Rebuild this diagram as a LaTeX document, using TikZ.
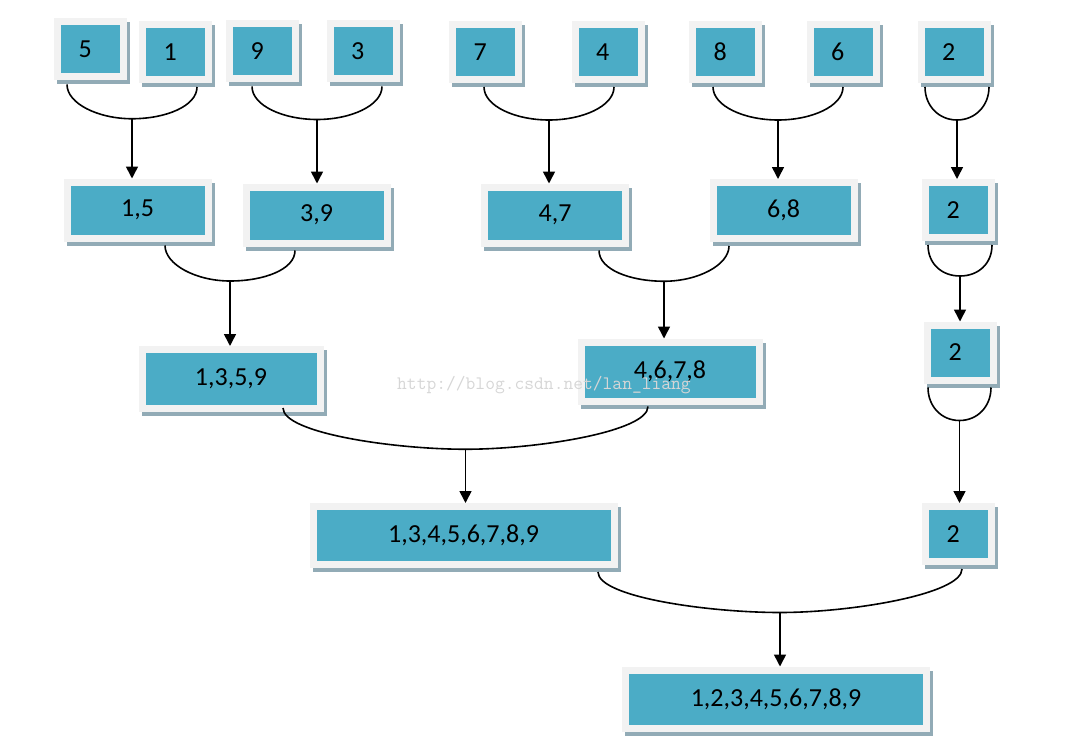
\documentclass[tikz,border=0pt]{standalone}
\usepackage{fontspec}
\setmainfont{Carlito}
\usetikzlibrary{arrows.meta, calc, shadows}

\definecolor{boxblue}{RGB}{75,172,198}
\definecolor{boxframe}{RGB}{242,242,242}
\definecolor{boxshade}{RGB}{146,171,182}
\definecolor{markgray}{RGB}{214,214,214}

\begin{document}
\begin{tikzpicture}[x=1pt, y=-1pt, >={Triangle[width=12pt,length=12pt]},
  box/.style={fill=boxblue, draw=boxframe, line width=7pt, inner sep=0pt,
    font=\fontsize{26}{30}\selectfont,
    drop shadow={shadow xshift=3pt, shadow yshift=-4pt, fill=boxshade, draw=boxshade, line width=7pt, opacity=1}},
  one/.style={box, minimum width=66pt, minimum height=55pt, text width=24pt, align=left},
  two/.style={box, minimum width=141pt, minimum height=56pt},
  four/.style={box, minimum width=178pt, minimum height=59pt},
  nine/.style={box, minimum width=301pt, minimum height=58pt},
  link/.style={line width=1.6pt},
  hook/.style={out=-90, in=180, out distance=19pt, in distance=#1},
  unhook/.style={out=0, in=-90, out distance=#1, in distance=19pt},
  flow/.style={line width=1.6pt, ->}]

\useasboundingbox (0,0) rectangle (1076,749);

% the numbers
\node[one] (n5) at (90.5,49.5) {5};
\node[one] (n1) at (175.5,52) {1};
\node[one] (n9) at (262.5,51.5) {9};
\node[one] (n3) at (363,51.5) {3};
\node[one] (n7) at (485.5,52) {7};
\node[one] (n4) at (608,52) {4};
\node[one] (n8) at (725.5,52) {8};
\node[one] (n6) at (843,52) {6};
\node[one] (n2a) at (954,52) {2};

% first merge
\node[two] (n15) at (137.5,210) {1,5};
\node[two] (n39) at (316.5,215) {3,9};
\node[two] (n47) at (555,215) {4,7};
\node[two] (n68) at (783.5,210.5) {6,8};
\node[one] (n2b) at (958.5,210) {2};

% second merge
\node[four] (n1359) at (231,379) {1,3,5,9};
\node[four] (n4678) at (670,371.5) {4,6,7,8};
\node[one] (n2c) at (960.5,352.5) {2};

% third merge
\node[nine] (n13456789) at (463.5,535.5) {1,3,4,5,6,7,8,9};
\node[one] (n2d) at (958.5,534) {2};

\node[nine] (nall) at (776,699) {1,2,3,4,5,6,7,8,9};

% joins
\draw[link] ([xshift=-23.5pt,yshift=-4pt]n5.south) coordinate (a) to[hook=34pt] ($(a)!.5!([xshift=21.5pt,yshift=-4pt]n1.south)+(0,33)$) coordinate (j15) to[unhook=34pt] ([xshift=21.5pt,yshift=-4pt]n1.south);
\draw[flow] (j15) -- (j15 |- n15.north);

\draw[link] ([xshift=-10.5pt,yshift=-4pt]n9.south) coordinate (a) to[hook=34pt] ($(a)!.5!([xshift=19pt,yshift=-4pt]n3.south)+(0,33)$) coordinate (j39) to[unhook=34pt] ([xshift=19pt,yshift=-4pt]n3.south);
\draw[flow] (j39) -- (j39 |- n39.north);

\draw[link] ([xshift=-1.5pt,yshift=-4pt]n7.south) coordinate (a) to[hook=34pt] ($(a)!.5!([xshift=6pt,yshift=-4pt]n4.south)+(0,33)$) coordinate (j47) to[unhook=34pt] ([xshift=6pt,yshift=-4pt]n4.south);
\draw[flow] (j47) -- (j47 |- n47.north);

\draw[link] ([xshift=-12.5pt,yshift=-4pt]n8.south) coordinate (a) to[hook=34pt] ($(a)!.5!([yshift=-4pt]n6.south)+(0,33)$) coordinate (j68) to[unhook=34pt] ([yshift=-4pt]n6.south);
\draw[flow] (j68) -- (j68 |- n68.north);

\draw[link] ([xshift=-29pt,yshift=-4pt]n2a.south) coordinate (a) to[hook=18pt] ($(a)!.5!([xshift=35pt,yshift=-4pt]n2a.south)+(0,33)$) coordinate (j2a) to[unhook=18pt] ([xshift=35pt,yshift=-4pt]n2a.south);
\draw[flow] (j2a) -- (j2a |- n2b.north);

\draw[link] ([xshift=27.5pt,yshift=-4pt]n15.south) coordinate (a) to[hook=34pt] ($(a)!.5!([xshift=-21.5pt,yshift=-4pt]n39.south)+(0,33)$) coordinate (j1359) to[unhook=34pt] ([xshift=-21.5pt,yshift=-4pt]n39.south);
\draw[flow] (j1359) -- (j1359 |- n1359.north);

\draw[link] ([xshift=44pt,yshift=-4pt]n47.south) coordinate (a) to[hook=34pt] ($(a)!.5!([xshift=-54.5pt,yshift=-4pt]n68.south)+(0,33)$) coordinate (j4678) to[unhook=34pt] ([xshift=-54.5pt,yshift=-4pt]n68.south);
\draw[flow] (j4678) -- (j4678 |- n4678.north);

\draw[link] ([xshift=-30.5pt,yshift=-4pt]n2b.south) coordinate (a) to[hook=18pt] ($(a)!.5!([xshift=33.5pt,yshift=-4pt]n2b.south)+(0,31)$) coordinate (j2b) to[unhook=18pt] ([xshift=33.5pt,yshift=-4pt]n2b.south);
\draw[flow] (j2b) -- (j2b |- n2c.north);

\draw[link] ([xshift=52pt,yshift=4pt]n1359.south) coordinate (a) to[hook=72pt, out distance=25pt] ($(a)!.5!([xshift=-22pt,yshift=-2pt]n4678.south)+(0,42)$) coordinate (j13456789) to[unhook=72pt, in distance=25pt] ([xshift=-22pt,yshift=-2pt]n4678.south);
\draw[flow] (j13456789) -- (j13456789 |- n13456789.north);

\draw[link] ([xshift=-32.5pt,yshift=-4pt]n2c.south) coordinate (a) to[hook=18pt] ($(a)!.5!([xshift=30.5pt,yshift=-4pt]n2c.south)+(0,33)$) coordinate (j2c) to[unhook=18pt] ([xshift=30.5pt,yshift=-4pt]n2c.south);
\draw[flow] (j2c) -- (j2c |- n2d.north);

\draw[link] ([xshift=134.5pt,yshift=-4pt]n13456789.south) coordinate (a) to[hook=72pt, out distance=25pt] ($(a)!.5!([xshift=3.5pt,yshift=-4pt]n2d.south)+(0,42)$) coordinate (jall) to[unhook=72pt, in distance=25pt] ([xshift=3.5pt,yshift=-4pt]n2d.south);
\draw[flow] (jall) -- (jall |- nall.north);

\node[font=\ttfamily\fontsize{19}{22}\selectfont, text=markgray, anchor=west, inner sep=0pt] (mark) at (397,385) {http://blog.csdn.net/lan\_liang};

\end{tikzpicture}
\end{document}
